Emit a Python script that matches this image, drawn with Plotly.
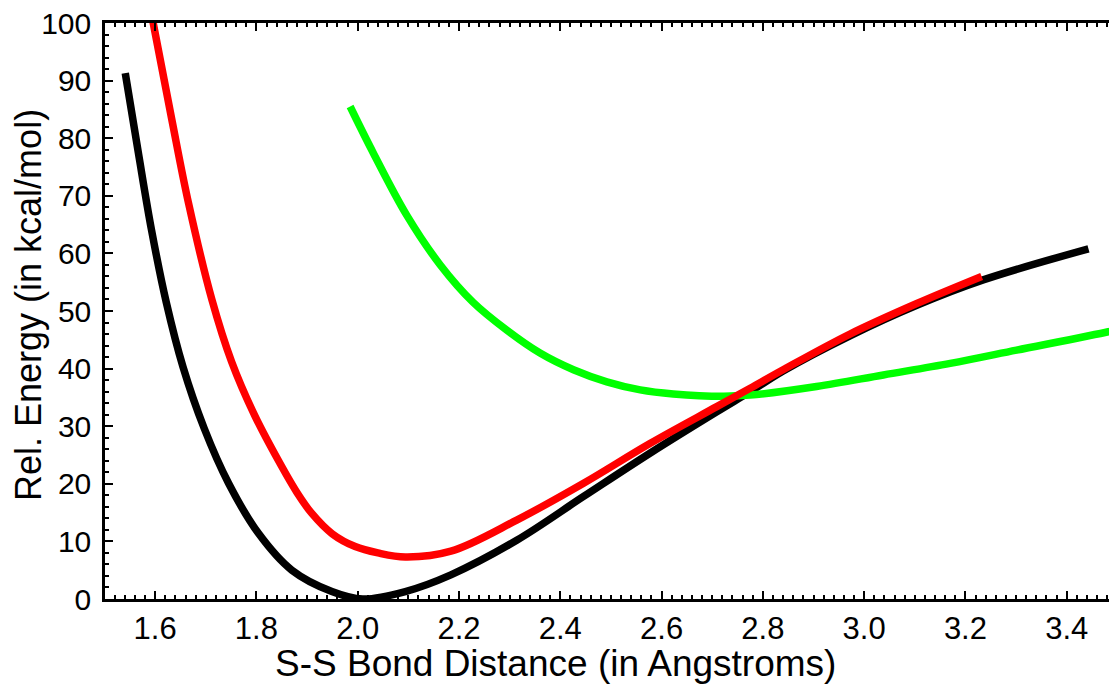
import plotly.graph_objects as go

# Black curve (ground state)
black_x = [1.541, 1.567, 1.593, 1.622, 1.655, 1.697, 1.745, 1.804, 1.870, 1.949, 2.010,
           2.094, 2.184, 2.314, 2.446, 2.577, 2.709, 2.775, 2.840, 2.972, 3.104, 3.235, 3.443]
black_y = [91.3, 77.4, 64.0, 51.5, 40.3, 29.6, 20.1, 11.4, 5.0, 1.3, 0.0,
           1.3, 4.2, 10.2, 17.8, 25.3, 32.5, 36.0, 39.6, 45.7, 51.0, 55.4, 60.8]

# Red curve
red_x = [1.594, 1.633, 1.666, 1.712, 1.751, 1.797, 1.850, 1.880, 1.909, 1.950, 1.995, 2.040,
         2.094, 2.184, 2.314, 2.446, 2.577, 2.709, 2.775, 2.840, 2.972, 3.104, 3.232]
red_y = [101.0, 83.2, 68.7, 52.0, 41.2, 31.8, 23.0, 18.5, 14.9, 11.3, 9.1, 8.0,
         7.3, 8.3, 13.7, 20.1, 27.0, 33.4, 36.6, 39.8, 46.0, 51.3, 56.0]

# Green curve
green_x = [1.985, 2.031, 2.097, 2.163, 2.228, 2.294, 2.360, 2.426, 2.492, 2.558, 2.623,
           2.722, 2.775, 2.906, 3.038, 3.170, 3.301, 3.482, 3.50]
green_y = [85.5, 77.4, 66.6, 58.0, 51.5, 46.7, 42.7, 39.8, 37.7, 36.3, 35.6,
           35.2, 35.4, 36.9, 38.9, 40.9, 43.2, 46.4, 46.8]

x_title = "S-S Bond Distance (in Angstroms)"
y_title = "Rel. Energy (in kcal/mol)"

fig = go.Figure()
fig.add_trace(go.Scatter(x=black_x, y=black_y, mode="lines",
                         line=dict(color="#000000", width=7.5, shape="spline"), showlegend=False))
fig.add_trace(go.Scatter(x=green_x, y=green_y, mode="lines",
                         line=dict(color="#00FF00", width=7.5, shape="spline"), showlegend=False))
fig.add_trace(go.Scatter(x=red_x, y=red_y, mode="lines",
                         line=dict(color="#FF0000", width=7.5, shape="spline"), showlegend=False))

font_family = "Liberation Sans, Arial, sans-serif"
fig.update_layout(
    width=1109, height=684,
    margin=dict(l=105, r=0, t=23, b=85),
    plot_bgcolor="white", paper_bgcolor="white",
    font=dict(family=font_family, size=28, color="black"),
    xaxis=dict(
        range=[1.501, 3.4835], tick0=1.6, dtick=0.2, tickformat=".1f",
        ticks="inside", ticklen=8, tickwidth=2, tickcolor="black",
        showline=True, linecolor="black", linewidth=2.5, mirror="allticks",
        showgrid=False, zeroline=False,
        minor=dict(ticks="inside", dtick=0.02, tick0=1.6, ticklen=4, tickwidth=1.5, tickcolor="black"),
        tickfont=dict(size=31),
    ),
    yaxis=dict(
        range=[0, 100], dtick=10,
        ticks="inside", ticklen=8, tickwidth=2, tickcolor="black",
        showline=True, linecolor="black", linewidth=2.5, mirror=False,
        showgrid=False, zeroline=False,
        minor=dict(ticks="inside", dtick=2, ticklen=4, tickwidth=1.5, tickcolor="black"),
        tickfont=dict(size=30), ticklabelstandoff=5,
    ),
    annotations=[
        dict(text=x_title, xref="paper", yref="paper", x=(555 - 105) / 1004, y=-(663 - 599) / 576,
             xanchor="center", yanchor="middle", showarrow=False, font=dict(size=37)),
        dict(text=y_title, xref="paper", yref="paper", x=-(105 - 28) / 1004, y=(599 - 305) / 576,
             xanchor="center", yanchor="middle", showarrow=False, textangle=-90, font=dict(size=36)),
    ],
)

fig.write_html("out.html")
